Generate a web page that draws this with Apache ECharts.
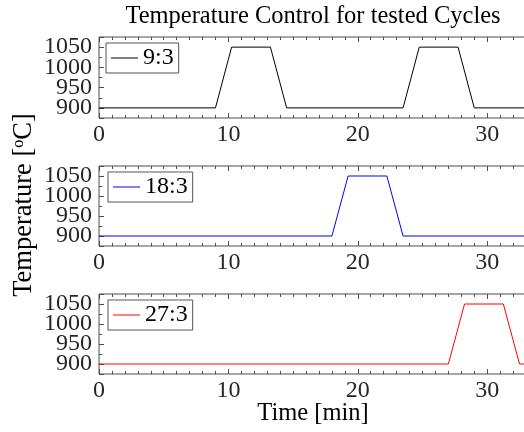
<!DOCTYPE html>
<html><head><meta charset="utf-8">
<script src="https://cdn.jsdelivr.net/npm/echarts/dist/echarts.min.js"></script>
<style>html,body{margin:0;padding:0;background:#fff}#c{width:524px;height:432px}</style>
</head><body><div id="c"></div>
<script>
// ---- data ----
const seriesNames = ['9:3', '18:3', '27:3'];
const time_9_3  = [0, 9, 10.25, 13.25, 14.5, 23.5, 24.75, 27.75, 29, 33];
const temp_9_3  = [900, 900, 1050, 1050, 900, 900, 1050, 1050, 900, 900];
const time_18_3 = [0, 18, 19.25, 22.25, 23.5, 33];
const temp_18_3 = [900, 900, 1050, 1050, 900, 900];
const time_27_3 = [0, 27, 28.25, 31.25, 32.5, 33];
const temp_27_3 = [900, 900, 1050, 1050, 900, 900];
const xTickLabels = [0, 10, 20, 30];
const yTickLabels = [900, 950, 1000, 1050];
const titleText = 'Temperature Control for tested Cycles';
const xLabelText = 'Time [min]';
const yLabelText = 'Temperature [{s|o}C]';

// ---- styling / layout ----
const FONT = "'Liberation Serif', 'Times New Roman', serif";
const AX = '#4d4d4d';
const colors = ['#000000', '#0000ff', '#ff0000'];
const gridTops = [37, 166, 294];
const gridHeights = [81, 80, 80];
const legendLeft = [106, 108, 108];
const X_MIN = 0, X_MAX = 33, Y_MIN = 875, Y_MAX = 1075;
const times = [time_9_3, time_18_3, time_27_3];
const temps = [temp_9_3, temp_18_3, temp_27_3];

const grids = [], xAxes = [], yAxes = [], series = [], legends = [];
for (let g = 0; g < 3; g++) {
  grids.push({left: 99, width: 427, top: gridTops[g], height: gridHeights[g],
    show: true, borderColor: AX, borderWidth: 1, containLabel: false, outerBoundsMode: 'none'});
  const baseX = {type: 'value', gridIndex: g, min: X_MIN, max: X_MAX,
    axisLine: {show: false, onZero: false}, splitLine: {show: false}};
  const lab = {show: true, fontSize: 24, fontFamily: FONT, color: '#262626', margin: 5,
    showMaxLabel: false, formatter: v => xTickLabels.includes(v) ? String(v) : ''};
  xAxes.push(Object.assign({}, baseX, {position: 'bottom', interval: 10,
    axisTick: {show: true, inside: true, length: 5, lineStyle: {color: AX}}, axisLabel: lab}));
  xAxes.push(Object.assign({}, baseX, {position: 'bottom', interval: 1,
    axisTick: {show: true, inside: true, length: 3, lineStyle: {color: AX}}, axisLabel: {show: false}}));
  xAxes.push(Object.assign({}, baseX, {position: 'top', interval: 10,
    axisTick: {show: true, inside: true, length: 5, lineStyle: {color: AX}}, axisLabel: {show: false}}));
  xAxes.push(Object.assign({}, baseX, {position: 'top', interval: 1,
    axisTick: {show: true, inside: true, length: 3, lineStyle: {color: AX}}, axisLabel: {show: false}}));
  const baseY = {type: 'value', gridIndex: g, min: Y_MIN, max: Y_MAX, position: 'left',
    axisLine: {show: false, onZero: false}, splitLine: {show: false}};
  yAxes.push(Object.assign({}, baseY, {interval: 25,
    axisTick: {show: true, inside: true, length: 3, lineStyle: {color: AX}},
    axisLabel: {show: true, fontSize: 24, fontFamily: FONT, color: '#262626', margin: 7,
      formatter: v => yTickLabels.includes(v) ? String(v) : ''}}));
  yAxes.push(Object.assign({}, baseY, {splitNumber: 4,
    axisTick: {show: true, inside: true, length: 5, lineStyle: {color: AX}}, axisLabel: {show: false}}));
  series.push({type: 'line', name: seriesNames[g], xAxisIndex: 4 * g, yAxisIndex: 2 * g,
    data: times[g].map((t, i) => [t, temps[g][i]]), symbol: 'none', clip: true,
    lineStyle: {width: 1, color: colors[g]}, itemStyle: {color: colors[g]}});
  legends.push({data: [{name: seriesNames[g], icon: 'rect'}], left: legendLeft[g], top: gridTops[g] + 6,
    itemWidth: 27, itemHeight: 1, itemGap: 0, padding: [3, 5, 3, 5], borderColor: '#555', borderWidth: 1,
    backgroundColor: '#fff', borderRadius: 0, selectedMode: false,
    itemStyle: {color: colors[g], borderWidth: 0},
    textStyle: {fontSize: 24, fontFamily: FONT, color: '#000'}});
}

const chart = echarts.init(document.getElementById('c'), null, {renderer: 'canvas'});
chart.setOption({
  animation: false,
  backgroundColor: '#fff',
  grid: grids, xAxis: xAxes, yAxis: yAxes, series: series, legend: legends,
  graphic: [
    {type: 'text', x: 313, y: 17, style: {text: titleText, font: '24.5px ' + FONT,
      fill: '#000', align: 'center', verticalAlign: 'middle'}},
    {type: 'text', x: 313, y: 414, style: {text: xLabelText, font: '24.5px ' + FONT,
      fill: '#000', align: 'center', verticalAlign: 'middle'}},
    {type: 'text', x: 24, y: 205, rotation: Math.PI / 2, style: {text: yLabelText,
      fontSize: 26.5, fontFamily: FONT, fill: '#000', align: 'center', verticalAlign: 'middle',
      rich: {s: {fontSize: 16, fontFamily: FONT, fill: '#000', verticalAlign: 'top', lineHeight: 26}}}}
  ]
});
</script></body></html>
